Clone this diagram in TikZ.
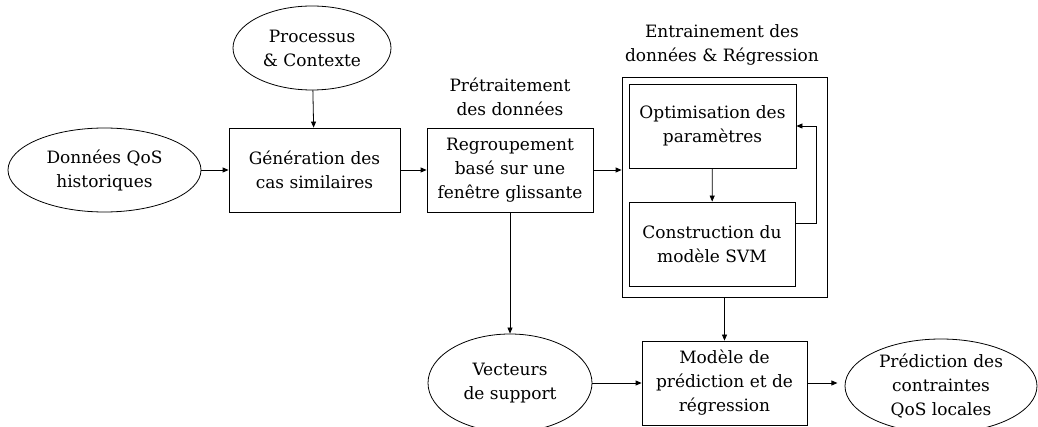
\documentclass[tikz,border=0pt]{standalone}
\usepackage{fontspec}
\setmainfont{DejaVu Serif}
\usetikzlibrary{shapes.geometric,arrows.meta}
\tikzset{
  bloc/.style={draw, minimum width=166pt, minimum height=84pt, align=center, inner sep=2pt},
  bulle/.style={draw, ellipse, align=center, inner sep=0pt},
  titre/.style={align=center},
}
\begin{document}
\begin{tikzpicture}[x=1pt, y=-1pt, font=\fontsize{17}{24}\selectfont, line width=0.8pt, >={Triangle[length=6pt,width=5pt]}]
    \useasboundingbox (0,0) rectangle (1038,427);
    % entrees
    \node[bulle, minimum width=158pt, minimum height=84pt] (proc) at (312,48) {Processus\\\& Contexte};
    \node[bulle, minimum width=193pt, minimum height=84pt] (donnees) at (104.5,170) {Données QoS\\historiques};
    % pretraitement
    \node[bloc, minimum width=171pt] (gen) at (314.5,170) {Génération des\\cas similaires};
    \node[bloc] (regr) at (510,170) {Regroupement\\basé sur une\\fenêtre glissante};
    \node[titre] (pretrait) at (510,97) {Prétraitement\\des données};
    % entrainement
    \node[titre] (entr) at (722,45) {Entrainement des\\données \& Régression};
    \node[draw, minimum width=205pt, minimum height=220pt] (cadre) at (724.5,187) {};
    \node[bloc, minimum width=167pt] (optim) at (712.5,126) {Optimisation des\\paramètres};
    \node[bloc] (constr) at (712,244) {Construction du\\modèle SVM};
    % sorties
    \node[bulle, minimum width=164pt, minimum height=98pt] (vect) at (510,383) {Vecteurs\\de support};
    \node[bloc, minimum width=165pt] (modele) at (724.5,383) {Modèle de\\prédiction et de\\régression};
    \node[bulle, minimum width=192pt, minimum height=94pt] (pred) at (941,386) {Prédiction des\\contraintes\\QoS locales};
    % liens
    \draw[->] (proc) -- (gen);
    \draw[->] (donnees) -- (gen);
    \draw[->] (gen) -- (regr);
    \draw[->] (regr.east) -- (regr.east -| cadre.west);
    \draw[->] (optim) -- (constr);
    \draw[->] ([yshift=21pt]constr.east) -- ++(21,0) |- (optim.east);
    \draw[->] (regr) -- (vect);
    \draw[->] (cadre) -- (modele);
    \draw[->] (vect) -- (modele);
    \draw[->] (modele.east) -- ++(30,0);
\end{tikzpicture}
\end{document}
